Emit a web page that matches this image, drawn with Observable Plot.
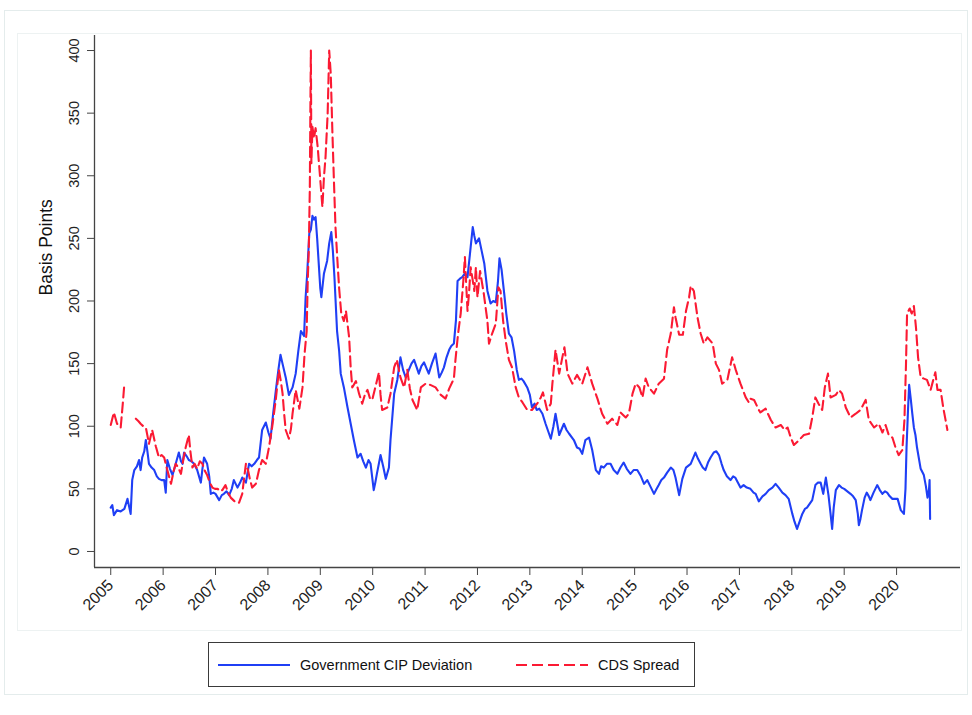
<!DOCTYPE html>
<html>
<head>
<meta charset="utf-8">
<script src="https://cdn.jsdelivr.net/npm/d3@7"></script>
<script src="https://cdn.jsdelivr.net/npm/@observablehq/plot@0.6"></script>
<style>
  html, body { margin: 0; padding: 0; background: #fff; }
  #wrap { position: relative; width: 972px; height: 715px; overflow: hidden; font-family: "Liberation Sans", Arial, Helvetica, sans-serif; }
  #outer { position: absolute; left: 4px; top: 10px; width: 964px; height: 685px; border: 1px solid #e4ecec; box-sizing: border-box; }
  #inner { position: absolute; left: 17px; top: 33px; width: 945px; height: 598px; border: 1px solid #edf2f2; box-sizing: border-box; }
  #chart { position: absolute; left: 0; top: 0; }
  #legend { position: absolute; left: 208px; top: 642px; width: 487px; height: 45px; border: 1px solid #3a3a3a; box-sizing: border-box; background: #fff; font-size: 14.5px; color: #111; }
  #legend .item { position: absolute; top: 0; height: 43px; display: flex; align-items: center; }
  #legend svg { display: block; }
</style>
</head>
<body>
<div id="wrap">
  <div id="outer"></div>
  <div id="inner"></div>
  <div id="chart"></div>
  <div id="legend"></div>
</div>
<script>
// ---- Data (decimal years, basis points) ----
const cipYear = [2005.00,2005.03,2005.06,2005.12,2005.19,2005.26,2005.32,2005.38,2005.41,2005.45,2005.50,2005.54,2005.57,2005.60,2005.64,2005.67,2005.70,2005.73,2005.78,2005.83,2005.88,2005.92,2005.97,2006.02,2006.05,2006.08,2006.13,2006.18,2006.24,2006.30,2006.34,2006.37,2006.40,2006.45,2006.49,2006.54,2006.59,2006.65,2006.72,2006.75,2006.78,2006.84,2006.88,2006.91,2006.96,2007.00,2007.07,2007.12,2007.16,2007.21,2007.26,2007.31,2007.35,2007.42,2007.47,2007.51,2007.58,2007.64,2007.69,2007.74,2007.79,2007.83,2007.89,2007.96,2008.01,2008.05,2008.10,2008.15,2008.20,2008.24,2008.29,2008.34,2008.40,2008.47,2008.53,2008.58,2008.63,2008.69,2008.72,2008.75,2008.79,2008.82,2008.85,2008.88,2008.91,2008.94,2008.97,2009.00,2009.02,2009.07,2009.13,2009.17,2009.21,2009.24,2009.27,2009.32,2009.36,2009.39,2009.45,2009.52,2009.58,2009.64,2009.71,2009.77,2009.82,2009.87,2009.92,2009.96,2010.02,2010.05,2010.08,2010.15,2010.20,2010.25,2010.31,2010.34,2010.41,2010.47,2010.53,2010.58,2010.63,2010.69,2010.74,2010.79,2010.84,2010.88,2010.93,2010.98,2011.03,2011.07,2011.13,2011.20,2011.27,2011.32,2011.36,2011.41,2011.46,2011.50,2011.55,2011.59,2011.62,2011.67,2011.71,2011.76,2011.81,2011.87,2011.91,2011.94,2011.97,2012.03,2012.08,2012.13,2012.19,2012.25,2012.30,2012.35,2012.39,2012.42,2012.46,2012.51,2012.55,2012.60,2012.65,2012.70,2012.75,2012.79,2012.84,2012.88,2012.95,2013.00,2013.04,2013.09,2013.13,2013.18,2013.24,2013.30,2013.35,2013.40,2013.45,2013.49,2013.56,2013.61,2013.65,2013.70,2013.75,2013.84,2013.90,2013.95,2014.00,2014.06,2014.13,2014.19,2014.26,2014.32,2014.36,2014.41,2014.47,2014.54,2014.60,2014.67,2014.73,2014.79,2014.85,2014.92,2014.98,2015.05,2015.12,2015.18,2015.24,2015.30,2015.37,2015.42,2015.46,2015.51,2015.56,2015.62,2015.69,2015.74,2015.78,2015.85,2015.91,2015.98,2016.07,2016.11,2016.16,2016.21,2016.26,2016.30,2016.35,2016.40,2016.45,2016.51,2016.56,2016.61,2016.66,2016.70,2016.76,2016.83,2016.88,2016.92,2016.97,2017.02,2017.08,2017.14,2017.21,2017.27,2017.31,2017.37,2017.44,2017.50,2017.56,2017.63,2017.69,2017.75,2017.82,2017.88,2017.94,2018.01,2018.05,2018.10,2018.15,2018.20,2018.25,2018.29,2018.34,2018.39,2018.45,2018.50,2018.55,2018.60,2018.65,2018.70,2018.74,2018.77,2018.80,2018.84,2018.90,2018.95,2019.00,2019.06,2019.12,2019.17,2019.22,2019.26,2019.28,2019.31,2019.34,2019.39,2019.43,2019.47,2019.50,2019.56,2019.63,2019.68,2019.73,2019.78,2019.82,2019.87,2019.92,2019.97,2020.02,2020.08,2020.14,2020.17,2020.19,2020.22,2020.24,2020.27,2020.30,2020.33,2020.36,2020.39,2020.46,2020.52,2020.56,2020.59,2020.62,2020.63,2020.64];
const cipBp = [35,37,29,33,32,34,42,30,57,65,68,73,65,75,80,89,80,70,67,65,60,58,57,57,47,73,66,61,70,79,72,70,79,76,73,72,70,65,55,66,75,70,60,46,47,46,41,45,46,48,45,50,57,51,55,59,55,70,68,70,73,75,97,103,95,90,110,128,145,157,148,139,125,131,142,160,176,172,203,222,254,257,268,265,267,250,230,210,203,222,232,246,255,240,219,176,160,142,131,115,102,89,75,78,72,67,73,70,49,55,62,77,68,58,67,89,126,137,155,145,139,145,150,153,147,142,148,151,146,142,150,158,139,143,147,155,161,164,166,185,216,218,219,222,219,243,259,252,246,250,240,230,208,198,200,199,215,234,225,206,190,174,171,160,145,137,138,136,131,125,115,118,113,114,110,102,96,90,100,110,93,98,102,97,94,89,83,82,78,89,91,81,65,62,68,67,70,70,65,62,67,71,66,62,65,65,60,54,57,52,46,50,53,57,59,63,67,65,59,45,58,67,70,74,79,74,70,67,65,71,75,79,80,77,70,65,60,57,60,59,55,51,53,51,50,47,46,40,44,46,49,51,54,51,47,45,42,30,24,18,24,30,34,35,38,41,53,55,55,46,59,45,30,18,35,49,53,51,50,48,46,44,41,30,21,26,33,43,47,44,41,47,53,49,46,48,47,44,42,42,42,33,30,50,83,115,133,122,110,99,93,83,66,61,52,43,50,57,26];

const cdsYear = [2005.00,2005.06,2005.12,2005.19,2005.23,2005.26,2005.30,2005.48,2005.53,2005.57,2005.62,2005.67,2005.73,2005.79,2005.86,2005.92,2005.97,2006.02,2006.08,2006.15,2006.20,2006.24,2006.29,2006.34,2006.38,2006.43,2006.49,2006.52,2006.56,2006.60,2006.65,2006.70,2006.75,2006.80,2006.84,2006.89,2006.94,2006.99,2007.04,2007.09,2007.13,2007.19,2007.24,2007.29,2007.34,2007.39,2007.45,2007.51,2007.55,2007.58,2007.62,2007.66,2007.70,2007.77,2007.83,2007.89,2007.96,2008.02,2008.08,2008.15,2008.21,2008.25,2008.28,2008.31,2008.34,2008.40,2008.44,2008.47,2008.53,2008.60,2008.66,2008.70,2008.74,2008.76,2008.78,2008.80,2008.81,2008.82,2008.83,2008.85,2008.88,2008.91,2008.95,2008.99,2009.04,2009.07,2009.10,2009.14,2009.17,2009.20,2009.23,2009.26,2009.29,2009.33,2009.36,2009.40,2009.45,2009.49,2009.55,2009.58,2009.61,2009.68,2009.74,2009.80,2009.85,2009.90,2009.95,2009.99,2010.05,2010.12,2010.15,2010.18,2010.23,2010.28,2010.34,2010.41,2010.46,2010.53,2010.60,2010.66,2010.71,2010.76,2010.85,2010.92,2011.01,2011.10,2011.20,2011.30,2011.39,2011.46,2011.55,2011.58,2011.63,2011.68,2011.73,2011.76,2011.81,2011.84,2011.87,2011.90,2011.94,2011.97,2012.00,2012.05,2012.12,2012.19,2012.22,2012.28,2012.35,2012.40,2012.44,2012.49,2012.54,2012.60,2012.66,2012.73,2012.79,2012.86,2012.95,2013.04,2013.14,2013.21,2013.25,2013.33,2013.40,2013.43,2013.49,2013.56,2013.62,2013.66,2013.72,2013.81,2013.90,2014.00,2014.10,2014.19,2014.29,2014.38,2014.48,2014.57,2014.67,2014.73,2014.83,2014.89,2014.96,2015.02,2015.09,2015.15,2015.21,2015.27,2015.37,2015.46,2015.56,2015.62,2015.69,2015.75,2015.78,2015.85,2015.92,2015.98,2016.04,2016.07,2016.13,2016.20,2016.26,2016.32,2016.39,2016.49,2016.55,2016.61,2016.67,2016.77,2016.86,2016.93,2017.02,2017.12,2017.18,2017.21,2017.28,2017.37,2017.40,2017.50,2017.60,2017.69,2017.79,2017.86,2017.92,2017.98,2018.04,2018.14,2018.23,2018.33,2018.39,2018.45,2018.51,2018.58,2018.63,2018.69,2018.74,2018.84,2018.90,2018.96,2019.03,2019.12,2019.22,2019.31,2019.41,2019.47,2019.57,2019.66,2019.73,2019.79,2019.85,2019.92,2019.98,2020.04,2020.11,2020.15,2020.18,2020.20,2020.25,2020.29,2020.33,2020.37,2020.41,2020.46,2020.52,2020.58,2020.65,2020.70,2020.74,2020.78,2020.84,2020.89,2020.97];
const cdsBp = [101,111,102,99,118,134,null,106,104,102,100,99,86,97,84,75,77,75,65,54,64,70,67,62,72,83,93,80,67,70,66,72,70,64,61,55,51,50,50,48,49,53,47,43,41,39,39,46,60,70,65,57,51,54,65,73,70,83,99,121,145,135,126,110,97,90,98,110,129,114,131,158,176,216,240,290,350,400,310,339,330,338,323,302,275,299,315,349,400,381,336,296,259,230,210,190,184,192,171,147,131,136,126,118,125,129,122,121,131,143,125,113,114,115,126,147,153,139,131,145,130,121,113,131,134,133,131,125,122,130,138,153,174,190,216,235,192,207,227,219,208,227,203,224,206,184,166,174,182,211,208,184,168,153,147,131,123,119,113,113,118,123,127,113,118,134,161,142,155,163,142,134,141,134,147,134,122,110,102,106,101,111,107,110,126,134,131,123,138,131,126,134,138,161,174,195,187,173,173,192,203,212,208,187,174,166,171,166,150,145,134,137,155,145,134,123,119,122,121,113,111,114,105,99,101,97,99,91,85,89,93,94,107,123,118,113,131,142,123,125,129,126,115,107,110,113,121,105,99,102,95,101,93,91,83,77,81,105,150,190,194,190,196,179,155,139,138,137,129,137,143,129,129,115,97];

const yearTicks = [2005,2006,2007,2008,2009,2010,2011,2012,2013,2014,2015,2016,2017,2018,2019,2020];
const bpTicks = [0,50,100,150,200,250,300,350,400];
const seriesNames = ["Government CIP Deviation", "CDS Spread"];
const yTitle = "Basis Points";
const xDomain = [2004.69, 2021.22];
const yDomain = [-12.8, 412];

const blue = "#1f3ff5";
const red = "#fb1a33";
const dash = "10,5";

const cip = cipYear.map((t, i) => ({t, v: cipBp[i]}));
const cds = cdsYear.map((t, i) => ({t, v: cdsBp[i] == null ? NaN : cdsBp[i]}));

const chart = Plot.plot({
  width: 972,
  height: 620,
  marginLeft: 94,
  marginRight: 12,
  marginTop: 35,
  marginBottom: 53,
  x: {domain: xDomain},
  y: {domain: yDomain},
  style: {fontFamily: "'Liberation Sans', Arial, Helvetica, sans-serif", fontSize: "14px", color: "#222", background: "transparent", overflow: "visible"},
  marks: [
    Plot.line(cip, {x: "t", y: "v", stroke: blue, strokeWidth: 2.1, curve: "linear"}),
    Plot.line(cds, {x: "t", y: "v", stroke: red, strokeWidth: 2.1, strokeDasharray: dash, curve: "linear"}),
    Plot.ruleX([xDomain[0]], {stroke: "#444", strokeWidth: 1.3}),
    Plot.ruleY([yDomain[0]], {stroke: "#444", strokeWidth: 1.3}),
    Plot.axisY(bpTicks, {tickRotate: -90, tickSize: 7, tickPadding: 9, label: null, stroke: "#444", fill: "#222", fontSize: 14.5}),
    Plot.axisX(yearTicks, {tickRotate: -45, tickSize: 8, tickPadding: 7, label: null, tickFormat: d => String(d), stroke: "#444", fill: "#222", fontSize: 16}),
    Plot.text([yTitle], {frameAnchor: "left", rotate: -90, dx: -48, dy: -6, fontSize: 17.5, fill: "#111"})
  ]
});
document.getElementById("chart").appendChild(chart);

// ---- Legend ----
const legend = document.getElementById("legend");
function item(left, color, dasharray, label, textLeft) {
  const s = document.createElement("div");
  s.className = "item";
  s.style.left = left + "px";
  s.innerHTML = `<svg width="72" height="6"><line x1="0" x2="72" y1="3" y2="3" stroke="${color}" stroke-width="2" ${dasharray ? `stroke-dasharray="${dasharray}"` : ""}/></svg>`;
  legend.appendChild(s);
  const t = document.createElement("div");
  t.className = "item";
  t.style.left = textLeft + "px";
  t.textContent = label;
  legend.appendChild(t);
}
item(9, blue, null, seriesNames[0], 91);
item(307, red, "11,5", seriesNames[1], 389);
</script>
</body>
</html>
